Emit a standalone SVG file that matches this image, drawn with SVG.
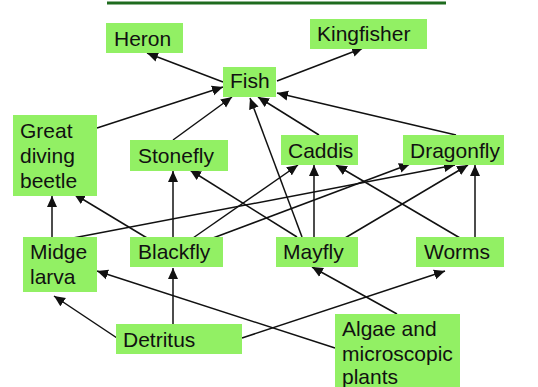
<svg xmlns="http://www.w3.org/2000/svg" width="538" height="387" viewBox="0 0 538 387">
<style>
.n rect{fill:#92f064;stroke:none}
.n text{font-family:"Liberation Sans",Arial,sans-serif;font-size:21px;fill:#111}
#edges line{stroke:#111;stroke-width:1.5;marker-end:url(#ah)}
</style>
<defs>
<marker id="ah" markerUnits="userSpaceOnUse" markerWidth="12" markerHeight="11" refX="11" refY="5.5" orient="auto">
<path d="M0,0.5 L11,5.5 L0,10.5 Z" fill="#111"/>
</marker>
</defs>
<rect width="538" height="387" fill="#fff"/>
<rect x="107" y="1.5" width="339" height="3" fill="#1e6b1e"/>
<g id="edges">
<line x1="223" y1="82" x2="147" y2="53"/>
<line x1="277" y1="81" x2="363" y2="48"/>
<line x1="97" y1="128" x2="223" y2="87"/>
<line x1="173" y1="140" x2="232" y2="97"/>
<line x1="302" y1="237" x2="250" y2="98"/>
<line x1="319" y1="135" x2="258" y2="97"/>
<line x1="456" y1="135" x2="277" y2="93"/>
<line x1="173" y1="237" x2="173" y2="171"/>
<line x1="297" y1="237" x2="190" y2="170"/>
<line x1="52" y1="237" x2="52" y2="196"/>
<line x1="147" y1="238" x2="74" y2="194"/>
<line x1="73" y1="238" x2="455" y2="165"/>
<line x1="193" y1="238" x2="298" y2="165"/>
<line x1="213" y1="238" x2="410" y2="164"/>
<line x1="314" y1="237" x2="314" y2="165"/>
<line x1="345" y1="238" x2="468" y2="165"/>
<line x1="460" y1="238" x2="336" y2="165"/>
<line x1="475" y1="237" x2="475" y2="165"/>
<line x1="117" y1="338" x2="54" y2="296"/>
<line x1="173" y1="324" x2="173" y2="268"/>
<line x1="242" y1="338" x2="445" y2="271"/>
<line x1="335" y1="348" x2="97" y2="271"/>
<line x1="397" y1="314" x2="312" y2="267"/>
</g>
<g id="heron" class="n"><rect x="106" y="23" width="77" height="30"/><text x="114" y="46">Heron</text></g>
<g id="kingfisher" class="n"><rect x="310" y="19" width="117" height="30"/><text x="317" y="41">Kingfisher</text></g>
<g id="fish" class="n"><rect x="223" y="67" width="53" height="30"/><text x="230" y="88">Fish</text></g>
<g id="beetle" class="n"><rect x="13" y="115" width="84" height="81"/><text x="20" y="138">Great</text><text x="20" y="163">diving</text><text x="20" y="188">beetle</text></g>
<g id="stonefly" class="n"><rect x="130" y="140" width="98" height="31"/><text x="138" y="163">Stonefly</text></g>
<g id="caddis" class="n"><rect x="281" y="135" width="77" height="30"/><text x="288" y="158">Caddis</text></g>
<g id="dragonfly" class="n"><rect x="403" y="135" width="101" height="30"/><text x="410" y="158">Dragonfly</text></g>
<g id="midge" class="n"><rect x="23" y="237" width="74" height="55"/><text x="30" y="259">Midge</text><text x="30" y="284">larva</text></g>
<g id="blackfly" class="n"><rect x="130" y="237" width="93" height="30"/><text x="138" y="259">Blackfly</text></g>
<g id="mayfly" class="n"><rect x="276" y="237" width="82" height="30"/><text x="283" y="259">Mayfly</text></g>
<g id="worms" class="n"><rect x="416" y="237" width="88" height="30"/><text x="424" y="259">Worms</text></g>
<g id="detritus" class="n"><rect x="116" y="324" width="126" height="30"/><text x="123" y="347">Detritus</text></g>
<g id="algae" class="n"><rect x="335" y="314" width="125" height="80"/><text x="342" y="336">Algae and</text><text x="342" y="361">microscopic</text><text x="342" y="384">plants</text></g>
</svg>
